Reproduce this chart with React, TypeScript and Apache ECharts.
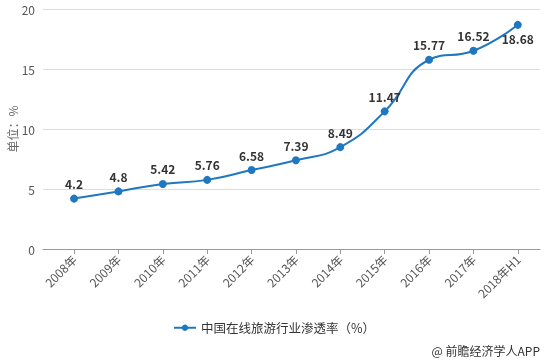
import React, { useEffect, useRef } from "react";
import * as echarts from "echarts";

const categories = ["2008年", "2009年", "2010年", "2011年", "2012年", "2013年", "2014年", "2015年", "2016年", "2017年", "2018年H1"];
const penetration = [4.2, 4.8, 5.42, 5.76, 6.58, 7.39, 8.49, 11.47, 15.77, 16.52, 18.68];
const yTicks = [0, 5, 10, 15, 20];
const seriesName = "中国在线旅游行业渗透率（%）";
const yUnit = "单位：%";

const FONT = "'Noto Sans CJK SC', 'Noto Sans', sans-serif";

export default function App() {
  const ref = useRef<HTMLDivElement>(null);
  useEffect(() => {
    if (!ref.current) return;
    const chart = echarts.init(ref.current, null, { renderer: "svg" });
    const idx = categories.map((_, i) => i);
    chart.setOption({
      animation: false,
      textStyle: { fontFamily: FONT },
      grid: { left: 43, right: 8, top: 9, bottom: 112, containLabel: false, outerBoundsMode: "none" },
      xAxis: {
        type: "value",
        min: -0.7,
        max: 10.5,
        axisLine: { show: true, lineStyle: { color: "#999" } },
        axisTick: { show: true, customValues: idx, length: 5, lineStyle: { color: "#999" } },
        splitLine: { show: false },
        axisLabel: {
          customValues: idx,
          rotate: 45,
          color: "#555",
          fontSize: 12,
          fontFamily: FONT,
          margin: 8,
          formatter: (v: number) => categories[Math.round(v)] ?? "",
        },
      },
      yAxis: {
        type: "value",
        min: yTicks[0],
        max: yTicks[yTicks.length - 1],
        interval: 5,
        axisLine: { show: false },
        axisTick: { show: false },
        axisLabel: { color: "#555", fontSize: 12, margin: 8, fontFamily: FONT },
        splitLine: { lineStyle: { color: "#ddd" } },
      },
      legend: {
        bottom: 22,
        left: "center",
        itemWidth: 22,
        itemHeight: 8,
        textStyle: { color: "#333", fontSize: 12.5, fontFamily: FONT },
        data: [seriesName],
      },
      graphic: [
        {
          type: "text",
          x: 12,
          y: 129,
          rotation: Math.PI / 2,
          style: {
            text: yUnit,
            fill: "#666",
            font: `12px ${FONT}`,
            align: "center",
            verticalAlign: "middle",
          },
        },
        {
          type: "text",
          right: 8,
          bottom: 5,
          style: { text: "@ 前瞻经济学人APP", fill: "#333", font: `12px ${FONT}` },
        },
      ],
      series: [
        {
          name: seriesName,
          type: "line",
          smooth: true,
          symbol: "circle",
          symbolSize: 8,
          color: "#1f77c0",
          lineStyle: { width: 2, color: "#1f77c0" },
          data: penetration.map((v, i) =>
            i === penetration.length - 1
              ? { value: [i, v], label: { position: "bottom", distance: 4 } }
              : [i, v]
          ),
          label: {
            show: true,
            position: "top",
            distance: 5,
            color: "#333",
            fontWeight: "bold",
            fontSize: 12,
            fontFamily: FONT,
            formatter: (p: any) => String(p.value[1]),
          },
        },
      ],
    });
    return () => chart.dispose();
  }, []);
  return <div ref={ref} style={{ position: "fixed", left: 0, top: 0, width: 548, height: 361 }} />;
}
